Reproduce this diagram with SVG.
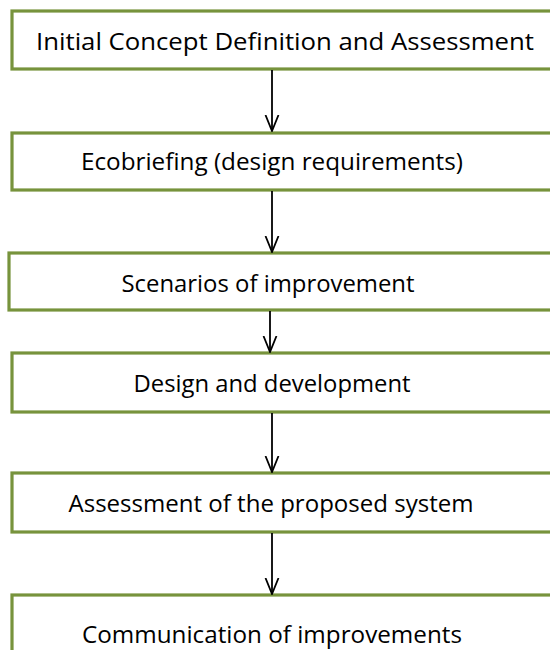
<svg xmlns="http://www.w3.org/2000/svg" width="550" height="650" viewBox="0 0 550 650">
<defs>
<style>
.box{fill:#fff;stroke:#77933C;stroke-width:3.2}
.t{font-family:"Open Sans","Liberation Sans",sans-serif;font-size:24px;fill:#000;text-anchor:middle}
.c{stroke:#000;stroke-width:1.8;fill:none}
</style>
<marker id="ah" markerWidth="17" markerHeight="16" refX="16" refY="7" orient="auto" markerUnits="userSpaceOnUse" viewBox="0 0 17 14">
<path d="M0,0.5 L16,7 L0,13.5" fill="none" stroke="#000" stroke-width="1.8"/>
</marker>
</defs>
<rect width="550" height="650" fill="#fff"/>
<g id="n1"><rect class="box" x="12" y="11" width="560" height="58"/><text class="t" x="285" y="50" textLength="498" lengthAdjust="spacingAndGlyphs">Initial  Concept Definition and Assessment</text></g>
<g id="n2"><rect class="box" x="12" y="133" width="560" height="57"/><text class="t" x="272" y="170" textLength="382" lengthAdjust="spacingAndGlyphs">Ecobriefing (design requirements)</text></g>
<g id="n3"><rect class="box" x="9" y="253" width="560" height="57"/><text class="t" x="268" y="292" textLength="293" lengthAdjust="spacingAndGlyphs">Scenarios of improvement</text></g>
<g id="n4"><rect class="box" x="12" y="353" width="560" height="59"/><text class="t" x="272" y="392" textLength="277" lengthAdjust="spacingAndGlyphs">Design and development</text></g>
<g id="n5"><rect class="box" x="12" y="473" width="560" height="59"/><text class="t" x="271" y="512" textLength="405" lengthAdjust="spacingAndGlyphs">Assessment of the proposed system</text></g>
<g id="n6"><rect class="box" x="12" y="595" width="560" height="70"/><text class="t" x="272" y="643" textLength="380" lengthAdjust="spacingAndGlyphs">Communication of improvements</text></g>
<g id="connectors">
<line class="c" x1="272" y1="70" x2="272" y2="131" marker-end="url(#ah)"/>
<line class="c" x1="272" y1="191" x2="272" y2="252" marker-end="url(#ah)"/>
<line class="c" x1="270" y1="311" x2="270" y2="352" marker-end="url(#ah)"/>
<line class="c" x1="272" y1="413" x2="272" y2="472" marker-end="url(#ah)"/>
<line class="c" x1="272" y1="533" x2="272" y2="594" marker-end="url(#ah)"/>
</g>
</svg>
